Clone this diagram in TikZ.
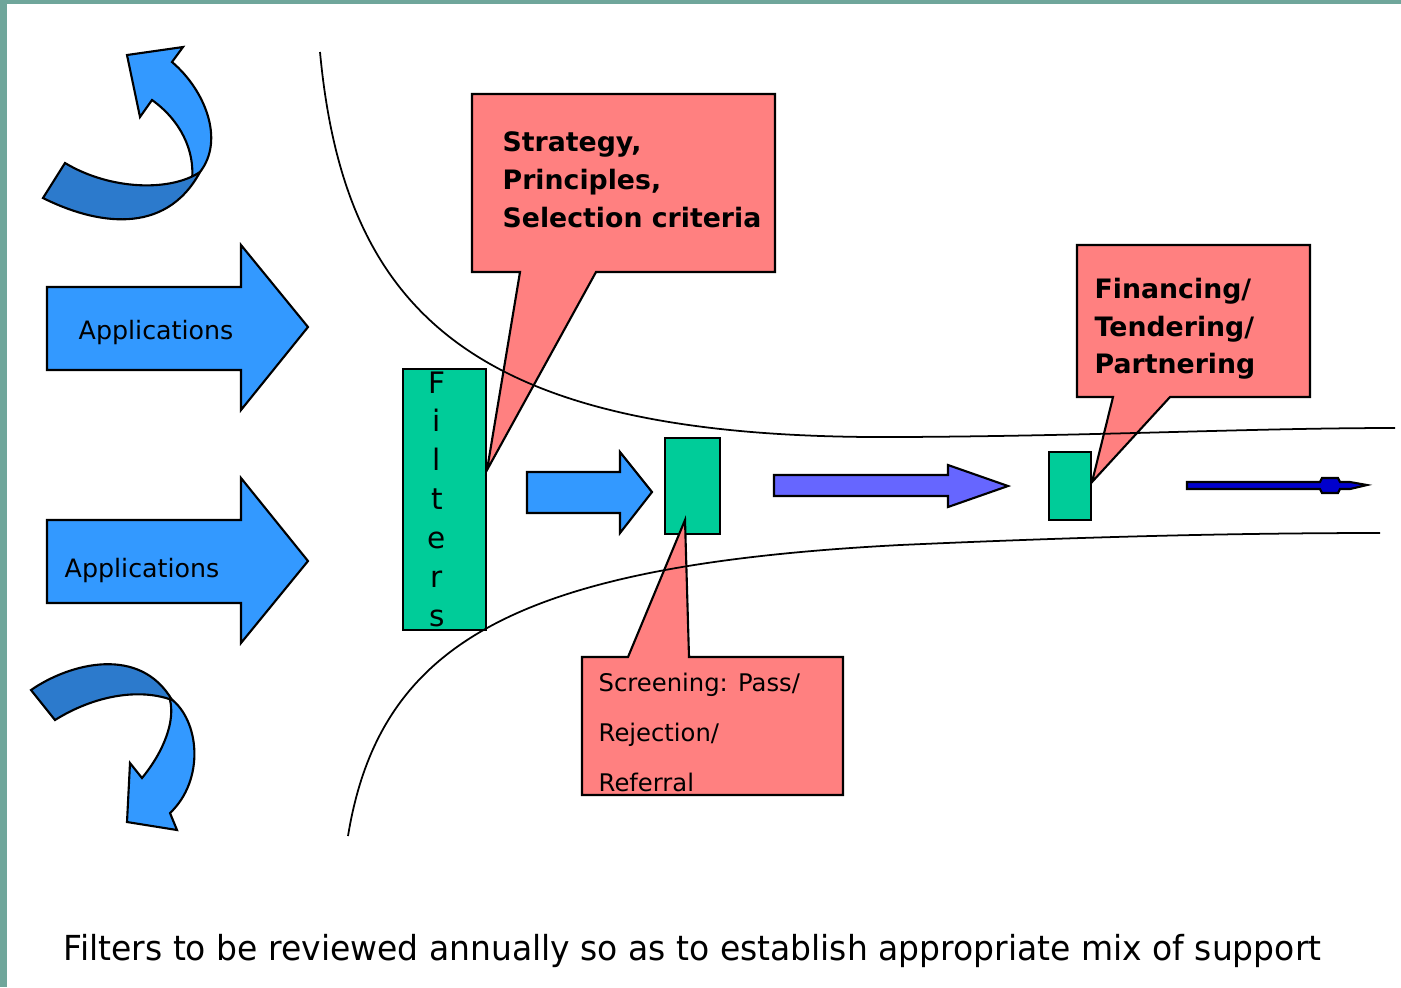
\documentclass[tikz,border=0pt]{standalone}
\usepackage{graphicx}
\usepackage{fontspec}
\setmainfont{DejaVu Sans}
\usepackage{tikz}

\definecolor{edgeteal}{RGB}{111,166,155}
\definecolor{appblue}{RGB}{51,153,255}
\definecolor{curldark}{RGB}{44,122,204}
\definecolor{filtergreen}{RGB}{0,204,153}
\definecolor{calloutred}{RGB}{255,128,128}
\definecolor{stepviolet}{RGB}{102,102,255}
\definecolor{deepblue}{RGB}{0,0,204}

\begin{document}
\begin{tikzpicture}[x=0.01cm,y=-0.01cm,
  inked/.style={draw=black,line width=0.6pt,line join=miter},
  boldlines/.style={font=\bfseries\fontsize{7.6}{10.8}\selectfont,align=left,inner sep=0pt},
  thinlines/.style={font=\fontsize{6.9}{14.2}\selectfont,align=left,inner sep=0pt},
  applabel/.style={font=\fontsize{7.2}{9}\selectfont,inner sep=0pt,anchor=base west},
  letter/.style={font=\fontsize{8.4}{9}\selectfont,inner sep=0pt,anchor=base}]

\useasboundingbox (0,0) rectangle (1401,987);
\fill [edgeteal] (0,0) rectangle (1401,987);
\fill [white] (7,4) rectangle (1401,987);

% curled arrows on the left
\filldraw [inked, fill=appblue] (192,180) .. controls (195,150) and (180,120) .. (152,100) -- (140,117) -- (127,55) -- (183,47) -- (172,62) .. controls (205,90) and (225,140) .. (200,172) -- cycle;
\filldraw [inked, fill=curldark] (43,198) .. controls (95,224) and (165,237) .. (200,172) .. controls (170,192) and (110,190) .. (65,163) -- cycle;
\filldraw [inked, fill=appblue] (170,698) .. controls (200,720) and (205,780) .. (170,813) -- (177,830) -- (127,822) -- (130,763) -- (142,778) .. controls (165,750) and (175,720) .. (170,700) -- cycle;
\filldraw [inked, fill=curldark] (31,690) .. controls (70,663) and (140,645) .. (172,700) .. controls (140,688) and (95,695) .. (55,720) -- cycle;

% incoming applications
\filldraw [inked, fill=appblue] (47,287) -- (241,287) -- (241,245) -- (308,327) -- (241,410) -- (241,370) -- (47,370) -- cycle;
\filldraw [inked, fill=appblue] (47,520) -- (241,520) -- (241,478) -- (308,561) -- (241,643) -- (241,603) -- (47,603) -- cycle;
\node [applabel] (apptop) at (78,339) {Applications};
\node [applabel] (appbottom) at (64,577) {Applications};

% filters and stages
\filldraw [inked, fill=filtergreen] (403,369) rectangle (486,630);
\foreach \ch [count=\i from 0] in {F,i,l,t,e,r,s}
  \node [letter] (filt\i) at (437,{393+38.9*\i}) {\ch};
\filldraw [inked, fill=appblue] (527,472) -- (620,472) -- (620,452) -- (652,492) -- (620,533) -- (620,513) -- (527,513) -- cycle;
\filldraw [inked, fill=filtergreen] (665,438) rectangle (720,534);
\filldraw [inked, fill=stepviolet] (774,475) -- (948,475) -- (948,465) -- (1008,486) -- (948,507) -- (948,496) -- (774,496) -- cycle;
\filldraw [inked, fill=filtergreen] (1049,452) rectangle (1091,520);
\filldraw [inked, fill=deepblue] (1187,482) -- (1320,482) -- (1322,478) -- (1338,478) -- (1340,482) -- (1350,482) -- (1367,485) -- (1350,489) -- (1340,489) -- (1338,493) -- (1322,493) -- (1320,489) -- (1187,489) -- cycle;

% callouts
\filldraw [inked, fill=calloutred] (472,94) -- (775,94) -- (775,272) -- (596,272) -- (487,470) -- (520,272) -- (472,272) -- cycle;
\node [boldlines, anchor=north west] (strategy) at (502,131) {Strategy,\\Principles,\\Selection criteria};
\filldraw [inked, fill=calloutred] (582,657) -- (628,657) -- (685,520) -- (689,657) -- (843,657) -- (843,795) -- (582,795) -- cycle;
\node [thinlines, anchor=north west] (screening) at (598,672) {Screening: Pass/\\Rejection/\\Referral};
\filldraw [inked, fill=calloutred] (1077,245) -- (1310,245) -- (1310,397) -- (1170,397) -- (1092,482) -- (1113,397) -- (1077,397) -- cycle;
\node [boldlines, anchor=north west] (financing) at (1094,277) {Financing/\\Tendering/\\Partnering};

% funnel
\draw [black, line width=0.5pt] (320,52) .. controls (345,320) and (480,440) .. (900,437) .. controls (1100,436) and (1250,428) .. (1395,428);
\draw [black, line width=0.5pt] (348,836) .. controls (380,640) and (520,565) .. (900,545) .. controls (1100,536) and (1250,533) .. (1380,533);

\node [inner sep=0pt, anchor=base west, font=\fontsize{9.8}{12}\selectfont] (caption) at (63,960) {\resizebox{12.57cm}{\height}{Filters to be reviewed annually so as to establish appropriate mix of support}};

\end{tikzpicture}
\end{document}
